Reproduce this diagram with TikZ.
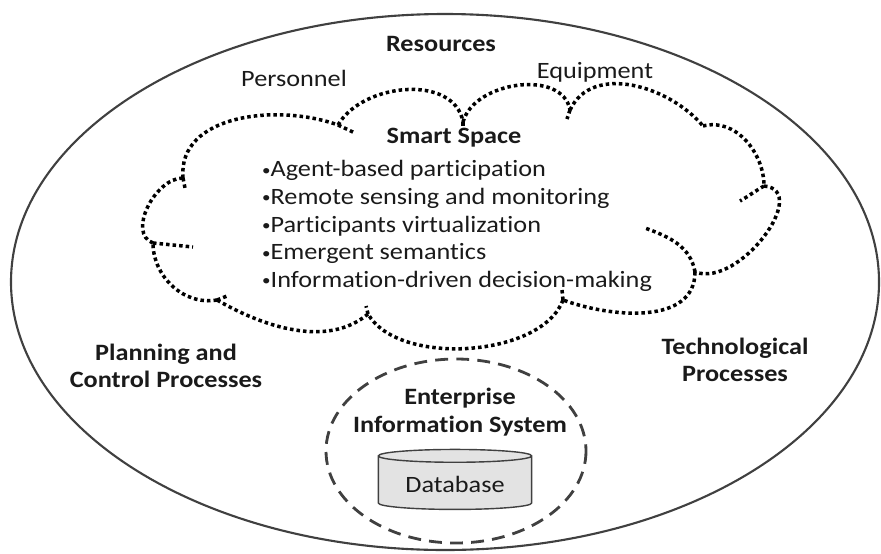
\documentclass[tikz,border=0pt]{standalone}
\usepackage{fontspec}
\setmainfont{Carlito}[FakeStretch=1.12, Ligatures=NoCommon]
\usetikzlibrary{shapes.geometric}
\definecolor{edge}{HTML}{404040}
\definecolor{ink}{HTML}{1A1A1A}
\definecolor{dbfill}{HTML}{E3E3E3}
\newcommand\mainsize{\fontsize{20}{23.6}\selectfont}
\newcommand\dotmark{{\fontsize{13}{13}\selectfont\raisebox{1.5pt}{•}}}
\tikzset{
  cloudline/.style={line width=3pt, dash pattern=on 3pt off 2.6pt},
  title/.style={font=\mainsize\bfseries, align=center},
}
\begin{document}
\begin{tikzpicture}[x=0.03cm, y=-0.03cm,
    every node/.style={text=ink, font=\mainsize}]
  \useasboundingbox (0,0) rectangle (881,553);
  \draw[edge, line width=1.8pt] (445,282) ellipse [x radius=434, y radius=268];
  \draw[edge, line width=2.4pt, dash pattern=on 11pt off 7pt]
    (456,451) ellipse [x radius=130, y radius=92];
  \path
    (441,44) node[title] (res){Resources}
    (294,78) node (pers){Personnel}
    (595,72) node (equip){Equipment}
    (454,138) node[title] (smart){Smart Space}
    (258,226) node[anchor=west, align=left] (items){%
      \dotmark Agent-based participation\\
      \dotmark Remote sensing and monitoring\\
      \dotmark Participants virtualization\\
      \dotmark Emergent semantics\\
      \dotmark Information-driven decision-making}
    (166,366) node[title] (plan){Planning and\\Control Processes}
    (735,360) node[title] (tech){Technological\\Processes}
    (460,412) node[title] (eis){Enterprise\\Information System}
    (455,484) node[cylinder, shape border rotate=90, aspect=0.12, draw=edge,
      line width=1.2pt, fill=dbfill, minimum width=4.6cm, minimum height=1.8cm]
      (db){Database};
  % cloud junctions
  \coordinate (A) at (183,178);
  \coordinate (B) at (338,125);
  \coordinate (K) at (463,122);
  \coordinate (J) at (570,110);
  \coordinate (I) at (703,126);
  \coordinate (H) at (764,186);
  \coordinate (G) at (695,272);
  \coordinate (F) at (563,300);
  \coordinate (E) at (368,314);
  \coordinate (D) at (217,300);
  \coordinate (C) at (153,243);
  \begin{scope}[cloudline]
    \draw (A) to[out=95, in=160] (B);
    \draw (B) to[out=60, in=100] (K);
    \draw (K) to[out=75, in=100] (J);
    \draw (J) to[out=65, in=130] (I);
    \draw (I) to[out=15, in=90] (H);
    \draw (H) to[out=-5, in=-20, looseness=1.1] (G);
    \draw (G) to[out=-90, in=-20] (F);
    \draw (F) to[out=-110, in=-60, looseness=0.8] (E);
    \draw (E) to[out=-140, in=-30, looseness=0.9] (D);
    \draw (D) to[out=190, in=-90] (C);
    \draw (C) to[out=160, in=180] (A);
    % inner marks
    \draw (A) -- ++(2,10);
    \draw (B) -- ++(17,8);
    \draw (K) -- ++(0,8);
    \draw (J) -- ++(-3,9);
    \draw (H) to[out=210, in=30] ++(-24,15);
    \draw (G) to[out=100, in=-20] ++(-50,-44);
    \draw (F) -- ++(-1,-10);
    \draw (E) -- ++(-2,-8);
    \draw (D) -- ++(10,-4);
    \draw (C) -- ++(40,4);
  \end{scope}
\end{tikzpicture}
\end{document}
